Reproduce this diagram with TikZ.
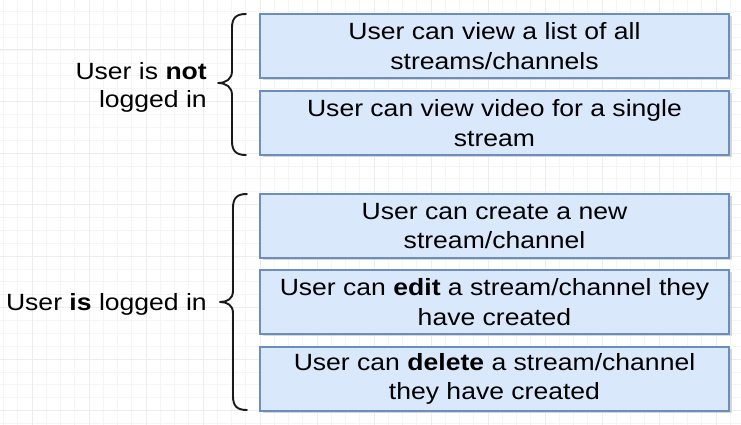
\documentclass[tikz,border=0pt]{standalone}
\usepackage{fontspec}
\setmainfont{Liberation Sans}[FakeStretch=1.13]
\begin{document}
\begin{tikzpicture}[x=1pt,y=-1pt,
  box/.style={draw=boxline,fill=boxfill,line width=1.4pt,minimum width=469pt,minimum height=64pt,
    inner sep=0pt,align=center,font=\fontsize{23.5}{29.5}\selectfont,text=black},
  lbl/.style={align=right,font=\fontsize{23.5}{28}\selectfont,inner sep=0pt,anchor=east},
  bracel/.style={line width=1.9pt,black!90,line cap=round,line join=round},
  shadowbox/.style={fill=black!25,opacity=0.6,minimum width=469pt,minimum height=64pt,inner sep=0pt}]
\definecolor{boxfill}{HTML}{DAE8FC}
\definecolor{boxline}{HTML}{6C8EBF}
\useasboundingbox (0,0) rectangle (741,425);
\fill[white] (0,0) rectangle (741,425);
% grid
\foreach \i in {0,...,53} {
  \pgfmathsetmacro{\gx}{-25+14.25*\i}
  \draw[line width=0.6pt,black!4] (\gx,0) -- (\gx,425);
}
\foreach \i in {0,...,34} {
  \pgfmathsetmacro{\gy}{-1.5+12.875*\i}
  \draw[line width=0.6pt,black!4] (0,\gy) -- (741,\gy);
}
\foreach \i in {0,...,13} {
  \pgfmathsetmacro{\gx}{-25+57*\i}
  \draw[line width=1pt,black!7] (\gx,0) -- (\gx,425);
}
\foreach \i in {0,...,9} {
  \pgfmathsetmacro{\gy}{-1.5+51.5*\i}
  \draw[line width=1pt,black!7] (0,\gy) -- (741,\gy);
}
% shadows
\foreach \cy in {45,122,225,301,378} {
  \node[shadowbox] at (497.5,\cy+3) {};
}
% boxes
\node[box] (b1) at (494.5,46) {User can view a list of all\\streams/channels};
\node[box] (b2) at (494.5,123) {User can view video for a single\\stream};
\node[box] (b3) at (494.5,226) {User can create a new\\stream/channel};
\node[box] (b4) at (494.5,302) {User can \textbf{edit} a stream/channel they\\have created};
\node[box] (b5) at (494.5,379) {User can \textbf{delete} a stream/channel\\they have created};
% labels
\node[lbl] (l1) at (207,87) {User is \textbf{not}\\logged in};
\node[lbl] (l2) at (207,304) {User \textbf{is} logged in};
% braces
\draw[bracel] (246,14) .. controls (236,14) and (232,18) .. (232,28) -- (232,71)
  .. controls (232,79) and (226,83) .. (218,83)
  .. controls (226,83) and (232,87) .. (232,95) -- (232,141)
  .. controls (232,151) and (236,155) .. (246,155);
\draw[bracel] (247,194) .. controls (237,194) and (233,198) .. (233,208) -- (233,291)
  .. controls (233,299) and (227,302) .. (220,302)
  .. controls (227,302) and (233,305) .. (233,313) -- (233,396)
  .. controls (233,406) and (237,410) .. (247,410);
\end{tikzpicture}
\end{document}
